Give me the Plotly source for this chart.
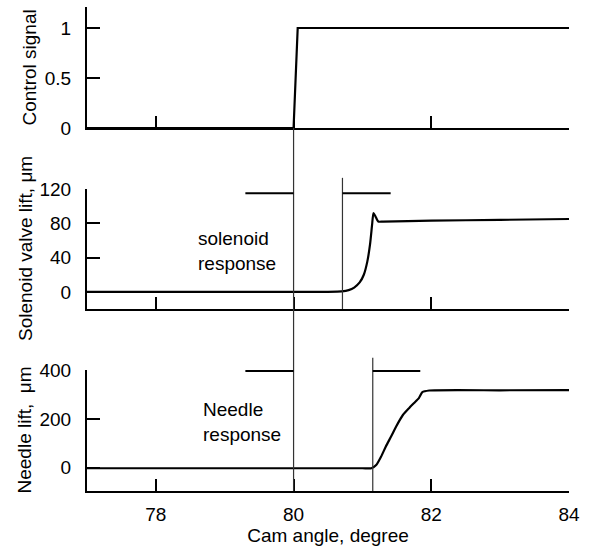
import plotly.graph_objects as go

# ---------------- data ----------------
ctrl_angle = [77.0, 80.0, 80.06, 84.0]
ctrl_signal = [0, 0, 1, 1]

sol_angle = [77.0, 80.5, 80.7, 80.8, 80.88, 80.96, 81.02, 81.07, 81.11, 81.14, 81.16, 81.19, 81.23, 81.3, 82.0, 83.0, 84.0]
sol_lift = [0, 0, 0.5, 2, 5, 11, 20, 35, 55, 78, 92, 88, 82, 82, 83, 84, 85]

ndl_angle = [77.0, 81.0, 81.13, 81.2, 81.27, 81.34, 81.42, 81.49, 81.59, 81.68, 81.75, 81.82, 81.87, 81.97, 83.0, 84.0]
ndl_lift = [-2, -2, -2, 11, 45, 87, 130, 169, 217, 245, 265, 285, 309, 316, 317, 318]

x_ticks = [78, 80, 82, 84]
ctrl_ticks = [0, 0.5, 1]
sol_ticks = [0, 40, 80, 120]
ndl_ticks = [0, 200, 400]

signal_on = 80.0        # control signal start
sol_start = 80.71       # solenoid response start
ndl_start = 81.15       # needle response start
bracket_left = 79.3
sol_bracket_right = 81.41
ndl_bracket_right = 81.84
sol_bracket_y = 115
ndl_bracket_y = 396

x_range = [77, 84]
ctrl_range = [0, 1.21]
sol_range = [-20, 120]
ndl_range = [-95, 400]

dom_top = [0.75, 1.0]
dom_mid = [0.376, 0.624]
dom_bot = [0.0, 0.25]

FONT = "Liberation Sans, Arial, sans-serif"
FS = 19

def to_paper(v, rng, dom):
    return dom[0] + (v - rng[0]) / (rng[1] - rng[0]) * (dom[1] - dom[0])

fig = go.Figure()
fig.add_trace(go.Scatter(x=ctrl_angle, y=ctrl_signal, mode="lines", line=dict(color="black", width=2.2), xaxis="x", yaxis="y"))
fig.add_trace(go.Scatter(x=sol_angle, y=sol_lift, mode="lines", line=dict(color="black", width=2.2, shape="spline", smoothing=0.5), xaxis="x2", yaxis="y2"))
fig.add_trace(go.Scatter(x=ndl_angle, y=ndl_lift, mode="lines", line=dict(color="black", width=2.2, shape="spline", smoothing=0.5), xaxis="x3", yaxis="y3"))

xcommon = dict(range=x_range, showline=True, linewidth=2, linecolor="black", ticks="inside",
               ticklen=12, tickwidth=2, tickcolor="black", tickvals=x_ticks, showgrid=False,
               zeroline=False, automargin=False, tickfont=dict(family=FONT, size=FS, color="black"))
ycommon = dict(showline=True, linewidth=2, linecolor="black", ticks="inside", ticklen=13,
               tickwidth=2, tickcolor="black", showgrid=False, zeroline=False, automargin=False,
               tickfont=dict(family=FONT, size=FS, color="black"), ticklabelstandoff=10)

fig.update_layout(
    width=592, height=549, margin=dict(l=87, r=23, t=7, b=58),
    paper_bgcolor="white", plot_bgcolor="white", showlegend=False,
    font=dict(family=FONT, size=FS, color="black"),
    xaxis=dict(xcommon, anchor="y", showticklabels=False),
    xaxis2=dict(xcommon, anchor="y2", showticklabels=False, matches="x"),
    xaxis3=dict(xcommon, anchor="y3", matches="x", ticklabelstandoff=5,
                title=dict(text="Cam angle, degree", font=dict(family=FONT, size=FS), standoff=3)),
    yaxis=dict(ycommon, domain=dom_top, range=ctrl_range, tickvals=ctrl_ticks, ticktext=["0", "0.5", "1"], anchor="x"),
    yaxis2=dict(ycommon, domain=dom_mid, range=sol_range, tickvals=sol_ticks, anchor="x2"),
    yaxis3=dict(ycommon, domain=dom_bot, range=ndl_range, tickvals=ndl_ticks, anchor="x3"),
)

thin = dict(color="#333333", width=1.2)
shapes = []
shapes.append(dict(type="line", xref="x", yref="paper", x0=signal_on, x1=signal_on,
                   y0=to_paper(0, ctrl_range, dom_top), y1=dom_bot[0], line=thin))
shapes.append(dict(type="line", xref="x2", yref="paper", x0=sol_start, x1=sol_start,
                   y0=to_paper(133, sol_range, dom_mid), y1=dom_mid[0], line=thin))
shapes.append(dict(type="line", xref="x3", yref="paper", x0=ndl_start, x1=ndl_start,
                   y0=to_paper(450, ndl_range, dom_bot), y1=dom_bot[0], line=thin))
br = dict(color="black", width=2)
shapes.append(dict(type="line", xref="x2", yref="y2", x0=bracket_left, x1=signal_on, y0=sol_bracket_y, y1=sol_bracket_y, line=br))
shapes.append(dict(type="line", xref="x2", yref="y2", x0=sol_start, x1=sol_bracket_right, y0=sol_bracket_y, y1=sol_bracket_y, line=br))
shapes.append(dict(type="line", xref="x3", yref="y3", x0=bracket_left, x1=signal_on, y0=ndl_bracket_y, y1=ndl_bracket_y, line=br))
shapes.append(dict(type="line", xref="x3", yref="y3", x0=ndl_start, x1=ndl_bracket_right, y0=ndl_bracket_y, y1=ndl_bracket_y, line=br))
fig.update_layout(shapes=shapes)

ann = []
ann.append(dict(text="solenoid<br>response", xref="x2", yref="y2", x=78.59, y=48, xanchor="left",
                yanchor="middle", align="left", showarrow=False, font=dict(family=FONT, size=FS)))
ann.append(dict(text="Needle<br>response", xref="x3", yref="y3", x=78.65, y=188, xanchor="left",
                yanchor="middle", align="left", showarrow=False, font=dict(family=FONT, size=FS)))
for txt, dom, xs in [("Control signal", dom_top, -58), ("Solenoid valve lift, μm", dom_mid, -62),
                     ("Needle lift,  μm", dom_bot, -63)]:
    ann.append(dict(text=txt, xref="paper", yref="paper", x=0, y=(dom[0] + dom[1]) / 2,
                    xanchor="center", yanchor="middle", xshift=xs, textangle=-90, showarrow=False,
                    font=dict(family=FONT, size=FS)))
fig.update_layout(annotations=ann)

fig.write_html("out.html", config={"displayModeBar": False},
               post_script="document.body.style.margin='0px';document.body.style.overflow='hidden';")
